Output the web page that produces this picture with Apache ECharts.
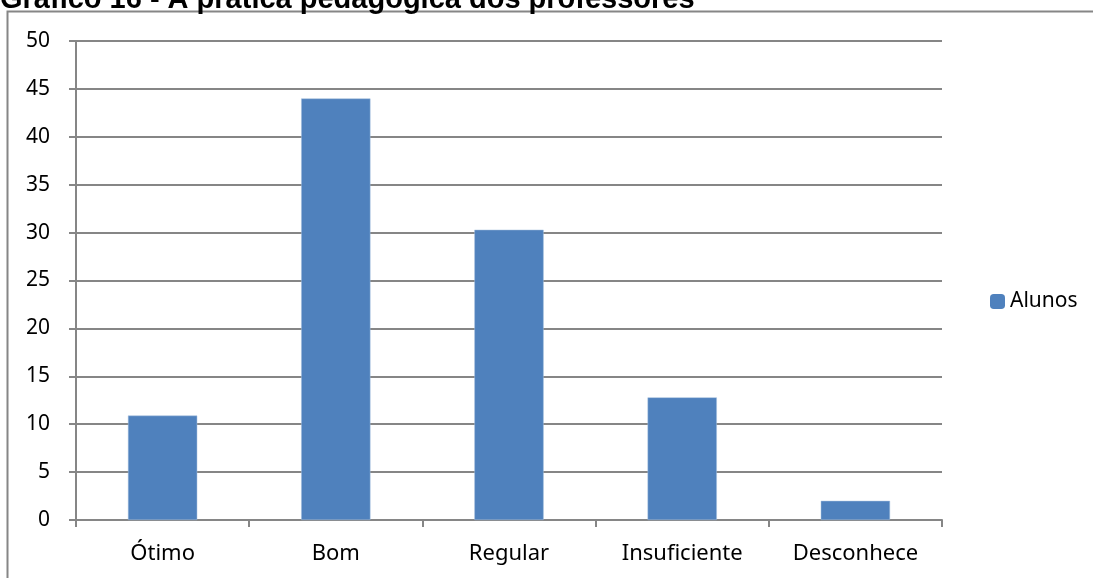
<!DOCTYPE html>
<html>
<head>
<meta charset="utf-8">
<script src="https://cdn.jsdelivr.net/npm/echarts@6/dist/echarts.min.js"></script>
<style>
html, body { margin: 0; padding: 0; background: #fff; }
#chart-container { width: 1093px; height: 578px; }
</style>
</head>
<body>
<div id="chart-container"></div>
<script>
var categories = ['Ótimo', 'Bom', 'Regular', 'Insuficiente', 'Desconhece'];
var alunos = [10.9, 44, 30.3, 12.8, 2];
var yTicks = [0, 50, 5]; // min, max, interval

var chartDom = document.getElementById('chart-container');
var myChart = echarts.init(chartDom);

var lineGray = '#868686';
var labelFont = 'Noto Sans, sans-serif';

var option = {
    animation: false,
    graphic: [
        {
            type: 'rect',
            shape: { x: 7.5, y: 11.5, width: 1200, height: 700 },
            style: { fill: 'none', stroke: lineGray, lineWidth: 2 }
        },
        {
            type: 'text',
            x: 0,
            y: -15,
            style: {
                text: 'Gráfico 16 - A prática pedagógica dos professores',
                font: 'bold 29px "Liberation Sans", Arial, sans-serif',
                fill: '#000',
                verticalAlign: 'top'
            }
        }
    ],
    legend: {
        data: ['Alunos'],
        left: 985,
        top: 286,
        itemWidth: 15,
        itemHeight: 15,
        itemGap: 6,
        itemStyle: { borderWidth: 0 },
        textStyle: { fontSize: 21, fontFamily: labelFont, color: '#000' }
    },
    grid: {
        left: 76,
        right: 151,
        top: 41,
        bottom: 58,
        containLabel: false
    },
    xAxis: {
        type: 'category',
        data: categories,
        axisLine: { lineStyle: { color: lineGray, width: 2 } },
        axisTick: { show: true, length: 7, lineStyle: { color: lineGray, width: 2 } },
        axisLabel: { fontSize: 22, fontFamily: labelFont, color: '#000', margin: 23 }
    },
    yAxis: {
        type: 'value',
        min: yTicks[0],
        max: yTicks[1],
        interval: yTicks[2],
        axisLine: { show: true, lineStyle: { color: lineGray, width: 2 } },
        axisTick: { show: true, length: 7, lineStyle: { color: lineGray, width: 2 } },
        axisLabel: { fontSize: 21, fontFamily: labelFont, color: '#000', margin: 26 },
        splitLine: { lineStyle: { color: lineGray, width: 2 } }
    },
    series: [
        {
            name: 'Alunos',
            type: 'bar',
            data: alunos,
            barCategoryGap: '60%',
            itemStyle: { color: '#4f81bd', borderColor: '#a7c0de', borderWidth: 0.5 }
        }
    ]
};

myChart.setOption(option);
</script>
</body>
</html>
